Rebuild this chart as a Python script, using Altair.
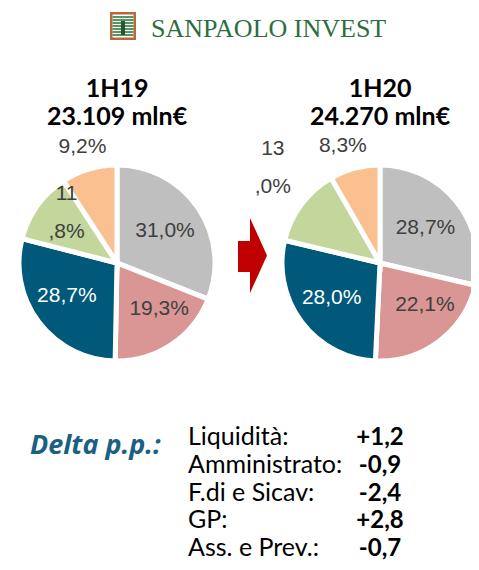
import math
import altair as alt
import pandas as pd

# ---------------- data ----------------
categories = ["F.di e Sicav", "GP", "Ass. e Prev.", "Liquidità", "Amministrato"]
slice_colors = ["#BFBFBF", "#D99694", "#00587A", "#C3D69B", "#FAC08F"]
values_1h19 = [31.0, 19.3, 28.7, 11.8, 9.2]
values_1h20 = [28.7, 22.1, 28.0, 13.0, 8.3]
periods = ["1H19", "1H20"]
totals = ["23.109 mln€", "24.270 mln€"]
delta_title = "Delta p.p.:"
delta_labels = ["Liquidità:", "Amministrato:", "F.di e Sicav:", "GP:", "Ass. e Prev.:"]
delta_values = ["+1,2", "-0,9", "-2,4", "+2,8", "-0,7"]
brand = "SANPAOLO INVEST"

# ---------------- layout helpers ----------------
M = 8  # page margin
W, H = 479 - 2 * M, 570 - 2 * M


def X(px):
    return px - M


def Y(py):
    return py - M


one = pd.DataFrame({"k": [0]})
theta_scale = alt.Scale(domain=[0, 1], range=[0, 2 * math.pi])
color_scale = alt.Scale(domain=categories, range=slice_colors)
LABEL_FONT = "Liberation Sans"
LABEL_GREY = "#404040"


def pie(values, cx, cy, label_cfg):
    df = pd.DataFrame({"cat": categories, "val": values, "order": list(range(len(values)))})
    base = (
        alt.Chart(df)
        .transform_joinaggregate(total="sum(val)")
        .transform_window(cum="sum(val)", sort=[alt.SortField("order")], frame=[None, 0])
        .transform_calculate(
            t0="(datum.cum - datum.val) / datum.total",
            t1="datum.cum / datum.total",
            tm="(datum.cum - datum.val / 2) / datum.total",
            label="replace(format(datum.val, '.1f'), '.', ',') + '%'",
        )
    )
    arcs = base.mark_arc(outerRadius=98, stroke="white", strokeWidth=5).encode(
        theta=alt.Theta("t0:Q", scale=theta_scale, stack=False),
        theta2="t1:Q",
        color=alt.Color("cat:N", scale=color_scale, legend=None),
        x=alt.value(X(cx)),
        y=alt.value(Y(cy)),
    )
    layers = [arcs]
    for cat, radius, dx, dy, split, col in label_cfg:
        t = base.transform_filter(alt.datum.cat == cat)
        if split:
            t = t.transform_calculate(lab2="replace(datum.label, ',', '\\n,')")
            field = "lab2:N"
        else:
            field = "label:N"
        layers.append(
            t.mark_text(
                radius=radius, dx=dx, dy=dy, fontSize=21, font=LABEL_FONT,
                lineBreak="\n", lineHeight=38, color=col,
            ).encode(
                theta=alt.Theta("tm:Q", scale=theta_scale, stack=False),
                text=alt.Text(field),
                x=alt.value(X(cx)),
                y=alt.value(Y(cy)),
            )
        )
    return layers


# (category, radius, dx, dy, split, colour)
left_cfg = [
    ("F.di e Sicav", 58, 0, 1, False, LABEL_GREY),
    ("GP", 58, 10, -2, False, LABEL_GREY),
    ("Ass. e Prev.", 58, -4, -2, False, "white"),
    ("Liquidità", 62, 0, -33, True, LABEL_GREY),
    ("Amministrato", 121, 0, 0, False, LABEL_GREY),
]
right_cfg = [
    ("F.di e Sicav", 58, 0, 1, False, LABEL_GREY),
    ("GP", 58, 10, -4, False, LABEL_GREY),
    ("Ass. e Prev.", 58, -2, 0, False, "white"),
    ("Liquidità", 140, 5, -30, True, LABEL_GREY),
    ("Amministrato", 121, -6, 0, False, LABEL_GREY),
]

CX_L, CX_R, CY = 117, 380, 263

layers = []
layers += pie(values_1h19, CX_L, CY, left_cfg)
layers += pie(values_1h20, CX_R, CY, right_cfg)

# titles above pies
for i, cx in enumerate([CX_L, CX_R]):
    layers.append(
        alt.Chart(one).mark_text(font="Lato", fontWeight="bold", fontSize=25, color="black",
                                 align="center", baseline="alphabetic").encode(
            text=alt.value(periods[i]), x=alt.value(X(cx)), y=alt.value(Y(97)))
    )
    layers.append(
        alt.Chart(one).mark_text(font="Lato", fontWeight="bold", fontSize=25, color="black",
                                 align="center", baseline="alphabetic").encode(
            text=alt.value(totals[i]), x=alt.value(X(cx)), y=alt.value(Y(125)))
    )

# red arrow between pies
arrow_path = "M -0.387 -0.387 L -0.067 -0.387 L -0.067 -1 L 0.387 0 L -0.067 1 L -0.067 0.44 L -0.387 0.44 Z"
layers.append(
    alt.Chart(one).mark_point(shape=arrow_path, filled=True, size=5625, color="#C00000",
                              opacity=1, strokeWidth=0).encode(
        x=alt.value(X(252.5)), y=alt.value(Y(255.5)))
)

# logo
layers.append(alt.Chart(one).mark_rect(color="#B9683A").encode(
    x=alt.value(X(110)), x2=alt.value(X(136)), y=alt.value(Y(12)), y2=alt.value(Y(40))))
layers.append(alt.Chart(one).mark_rect(color="white").encode(
    x=alt.value(X(112.5)), x2=alt.value(X(133.5)), y=alt.value(Y(14.5)), y2=alt.value(Y(37.5))))
for yy in [17, 20, 23, 26, 29, 32, 35]:
    layers.append(alt.Chart(one).mark_rule(color="#2F7A3C", strokeWidth=1.6).encode(
        x=alt.value(X(112.5)), x2=alt.value(X(133.5)), y=alt.value(Y(yy))))
layers.append(alt.Chart(one).mark_rect(color="#1F5A2C").encode(
    x=alt.value(X(121)), x2=alt.value(X(125)), y=alt.value(Y(21)), y2=alt.value(Y(35))))
layers.append(
    alt.Chart(one).mark_text(font="Liberation Serif", fontSize=26, color="#2C6E3F",
                             align="left", baseline="alphabetic").encode(
        text=alt.value(brand), x=alt.value(X(151)), y=alt.value(Y(37)))
)

# delta table
layers.append(
    alt.Chart(one).mark_text(font="Open Sans", fontWeight="bold", fontStyle="italic",
                             fontSize=27, color="#1A6082", align="left",
                             baseline="alphabetic").encode(
        text=alt.value(delta_title), x=alt.value(X(30)), y=alt.value(Y(454)))
)
delta_df = pd.DataFrame({"label": delta_labels, "value": delta_values})
y_rows = alt.Y("label:N", sort=None, axis=None,
               scale=alt.Scale(range=[Y(445), Y(556)], padding=0))
layers.append(
    alt.Chart(delta_df).mark_text(font="Lato", fontSize=25, color="black", align="left",
                                  baseline="alphabetic").encode(
        text="label:N", y=y_rows, x=alt.value(X(188)))
)
layers.append(
    alt.Chart(delta_df).mark_text(font="Lato", fontWeight="bold", fontSize=24, color="black",
                                  align="center", baseline="alphabetic").encode(
        text="value:N", y=y_rows, x=alt.value(X(380)))
)

chart = (
    alt.layer(*layers)
    .properties(width=W, height=H, autosize=alt.AutoSizeParams(type="none"), padding=0,
                background="white")
    .configure_view(stroke=None)
)

chart.save("out.html", embed_options={"renderer": "svg", "actions": False})
